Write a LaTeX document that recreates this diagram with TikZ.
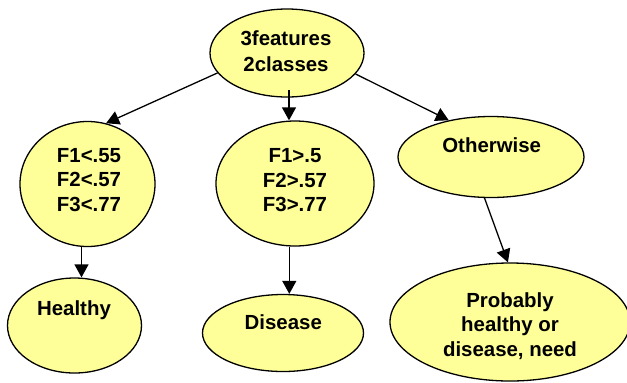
\documentclass[tikz,border=0pt]{standalone}
\usepackage{fontspec}
\setmainfont{Liberation Sans}
\usetikzlibrary{shapes.geometric,arrows.meta}
\definecolor{nodeyellow}{RGB}{255,255,153}
\begin{document}
\begin{tikzpicture}[x=1bp,y=-1bp,
  blob/.style={ellipse,draw=black,line width=1.3bp,fill=nodeyellow,inner sep=0pt},
  lbl/.style={font=\fontsize{20.5}{24.5}\selectfont\bfseries,align=center,anchor=base,inner sep=0pt},
  conn/.style={line width=1.3bp,-{Triangle[length=13bp,width=14bp]}}]
\useasboundingbox (0,0) rectangle (627,382);
% ellipses
\node[blob,minimum width=154bp,minimum height=88bp] (top) at (287,53) {};
\node[blob,minimum width=135bp,minimum height=125bp] (left) at (87.5,184) {};
\node[blob,minimum width=158bp,minimum height=125bp] (mid) at (295,183.5) {};
\node[blob,minimum width=186bp,minimum height=81bp] (other) at (491,157) {};
\node[blob,minimum width=134bp,minimum height=95bp] (healthy) at (74.5,325.5) {};
\node[blob,minimum width=161bp,minimum height=77bp] (disease) at (283,333) {};
\node[blob,minimum width=240bp,minimum height=118bp] (prob) at (510,322) {};
% connectors
\draw[conn] (top.196) -- (left.73);
\draw[conn] ([xshift=2bp,yshift=8bp]top.south) -- ([xshift=2bp]top.south |- mid.north);
\draw[conn] (top.343) -- (other.139);
\draw[conn] ([xshift=-6bp]left.south) -- ([xshift=-6bp]left.south |- healthy.north);
\draw[conn] ([xshift=-5.7bp]mid.south) -- ([xshift=-5.7bp]mid.south |- disease.north);
\draw[conn] (other.261) -- (prob.92);
% texts (base anchor = baseline of last line)
\node[lbl,font=\fontsize{20.5}{26}\selectfont\bfseries] (ttop) at (286,71) {3features\\2classes};
\node[lbl] (tleft) at (89,211) {F1<.55\\F2<.57\\F3<.77};
\node[lbl] (tmid) at (295,211.7) {F1>.5\\F2>.57\\F3>.77};
\node[lbl] (tother) at (491.7,152.3) {Otherwise};
\node[lbl] (thealthy) at (74,315) {Healthy};
\node[lbl] (tdisease) at (283.3,329.3) {Disease};
\node[lbl] (tprob) at (510,356) {Probably\\healthy or\\disease, need};
\end{tikzpicture}
\end{document}
